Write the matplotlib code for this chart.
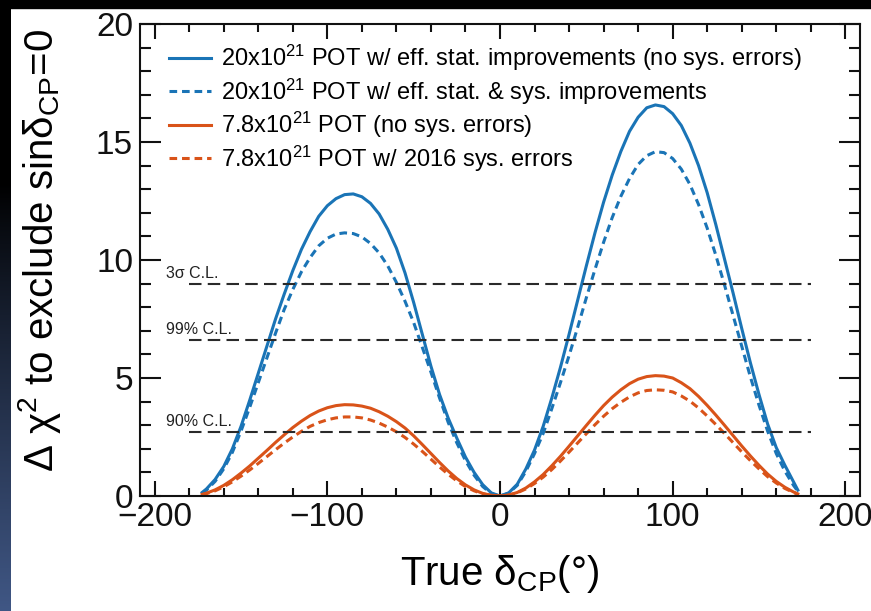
import matplotlib
matplotlib.use('Agg')
import matplotlib.pyplot as plt
import numpy as np
from matplotlib.ticker import MultipleLocator
from matplotlib.patches import Rectangle

# ---------------- data ----------------
delta_cp = [-172.5, -170, -165, -160, -155, -150, -145, -140, -135, -130,
            -125, -120, -115, -110, -105, -100, -95, -90, -85, -80,
            -75, -70, -65, -60, -55, -50, -45, -40, -35, -30,
            -25, -20, -15, -10, -5, 0,
            5, 10, 15, 20, 25, 30, 35, 40, 45, 50,
            55, 60, 65, 70, 75, 80, 85, 90, 95, 100,
            105, 110, 115, 120, 125, 130, 135, 140, 145, 150,
            155, 160, 165, 170, 172.5]

pot20_nosys = [0.15, 0.3, 0.7, 1.25, 2.0, 2.95, 4.05, 5.2, 6.35, 7.5,
               8.55, 9.55, 10.45, 11.2, 11.85, 12.3, 12.6, 12.77, 12.8, 12.68,
               12.4, 11.95, 11.3, 10.5, 9.45, 8.2, 6.85, 5.5, 4.3, 3.3,
               2.45, 1.65, 1.0, 0.48, 0.13, 0.0,
               0.13, 0.5, 1.15, 1.95, 2.95, 4.15, 5.45, 6.85, 8.3, 9.75,
               11.15, 12.45, 13.6, 14.6, 15.45, 16.05, 16.45, 16.57, 16.5, 16.2,
               15.7, 14.95, 14.0, 12.85, 11.5, 10.05, 8.6, 7.1, 5.65, 4.3,
               3.05, 2.05, 1.3, 0.6, 0.25]

pot20_sysimp = [0.12, 0.25, 0.62, 1.15, 1.85, 2.75, 3.75, 4.8, 5.85, 6.9,
                7.9, 8.75, 9.5, 10.1, 10.6, 10.92, 11.1, 11.15, 11.12, 10.98,
                10.7, 10.3, 9.75, 9.05, 8.25, 7.35, 6.3, 5.25, 4.15, 3.12,
                2.25, 1.5, 0.88, 0.4, 0.1, 0.0,
                0.12, 0.45, 1.05, 1.8, 2.65, 3.7, 4.8, 5.95, 7.15, 8.4,
                9.6, 10.75, 11.8, 12.7, 13.45, 14.05, 14.42, 14.59, 14.55, 14.3,
                13.85, 13.2, 12.35, 11.35, 10.2, 8.95, 7.65, 6.35, 5.05, 3.85,
                2.75, 1.8, 1.05, 0.45, 0.2]

pot78_nosys = [0.07, 0.12, 0.26, 0.45, 0.69, 0.97, 1.27, 1.6, 1.93, 2.27,
               2.59, 2.9, 3.17, 3.41, 3.6, 3.74, 3.83, 3.87, 3.86, 3.81,
               3.72, 3.57, 3.38, 3.15, 2.88, 2.55, 2.18, 1.8, 1.42, 1.06,
               0.74, 0.47, 0.26, 0.11, 0.03, 0.0,
               0.04, 0.15, 0.34, 0.6, 0.91, 1.28, 1.68, 2.11, 2.55, 2.99,
               3.42, 3.83, 4.19, 4.5, 4.76, 4.95, 5.06, 5.1, 5.08, 5.0,
               4.8, 4.55, 4.22, 3.84, 3.43, 3.0, 2.56, 2.12, 1.7, 1.3,
               0.93, 0.62, 0.37, 0.17, 0.09]

pot78_sys2016 = [0.05, 0.1, 0.22, 0.39, 0.6, 0.84, 1.1, 1.38, 1.67, 1.96,
                 2.24, 2.5, 2.74, 2.95, 3.11, 3.23, 3.31, 3.35, 3.35, 3.31,
                 3.22, 3.09, 2.92, 2.72, 2.48, 2.2, 1.89, 1.56, 1.23, 0.92,
                 0.64, 0.4, 0.22, 0.09, 0.02, 0.0,
                 0.035, 0.135, 0.3, 0.53, 0.8, 1.12, 1.48, 1.86, 2.25, 2.64,
                 3.02, 3.38, 3.7, 3.97, 4.2, 4.37, 4.47, 4.5, 4.48, 4.41,
                 4.24, 4.02, 3.73, 3.39, 3.03, 2.65, 2.26, 1.87, 1.5, 1.15,
                 0.82, 0.55, 0.32, 0.15, 0.07]

series_labels = [r"20x10$^{21}$ POT w/ eff. stat. improvements (no sys. errors)",
                 r"20x10$^{21}$ POT w/ eff. stat. & sys. improvements",
                 r"7.8x10$^{21}$ POT (no sys. errors)",
                 r"7.8x10$^{21}$ POT w/ 2016 sys. errors"]

cl_values = [9.0, 6.63, 2.71]
cl_labels = ["3σ C.L.", "99% C.L.", "90% C.L."]
x_ticks = [-200, -100, 0, 100, 200]
y_ticks = [0, 5, 10, 15, 20]

# ---------------- style ----------------
plt.rcParams['font.family'] = ['Liberation Sans', 'DejaVu Sans']
plt.rcParams['mathtext.fontset'] = 'custom'
plt.rcParams['mathtext.rm'] = 'Liberation Sans'
plt.rcParams['mathtext.it'] = 'Liberation Sans:italic'
plt.rcParams['mathtext.default'] = 'regular'

BLUE = '#1a74b6'
ORANGE = '#d95319'

W, H = 871, 611
fig = plt.figure(figsize=(W / 100, H / 100), dpi=100)
fig.patch.set_facecolor('white')

ax = fig.add_axes([140 / W, 1 - 496 / H, 720 / W, 472 / H])

dash = (0, (2.5, 1.6))
ax.plot(delta_cp, pot20_nosys, color=BLUE, lw=2.2, label=series_labels[0])
ax.plot(delta_cp, pot20_sysimp, color=BLUE, lw=2.2, ls=dash, label=series_labels[1])
ax.plot(delta_cp, pot78_nosys, color=ORANGE, lw=2.2, label=series_labels[2])
ax.plot(delta_cp, pot78_sys2016, color=ORANGE, lw=2.2, ls=dash, label=series_labels[3])

ax.hlines(cl_values, -180, 180, colors='#2a2a2a', linestyles=(0, (6, 3)), lw=1.5)
for v, lab in zip(cl_values, cl_labels):
    ax.text(-193.5, v + 0.12, lab, fontsize=11.5, va='bottom', ha='left', color='#222222')

ax.set_xlim(-208.5, 208.5)
ax.set_ylim(0, 20)
ax.set_xticks(x_ticks)
ax.set_yticks(y_ticks)
ax.xaxis.set_minor_locator(MultipleLocator(20))
ax.yaxis.set_minor_locator(MultipleLocator(1))

for s in ax.spines.values():
    s.set_linewidth(1.5)
    s.set_color('#111111')

ax.tick_params(which='both', direction='in', top=True, right=True, width=1.5,
               colors='#111111', labelsize=24)
ax.tick_params(axis='x', which='major', length=11, pad=4)
ax.tick_params(axis='x', which='minor', length=5.5)
ax.tick_params(axis='y', which='major', length=15, pad=5)
ax.tick_params(axis='y', which='minor', length=8)

ax.set_xlabel("True δ$_{CP}$(°)", fontsize=29)
ax.xaxis.set_label_coords(0.5, -0.165)
ax.xaxis.label.set_va('center')
ax.set_ylabel("Δ χ$^{2}$ to exclude sinδ$_{CP}$=0", fontsize=29)
ax.yaxis.set_label_coords(-0.139, 0.52)
ax.yaxis.label.set_va('center')

ax.legend(loc='upper left', bbox_to_anchor=(0.040, 0.96), frameon=False,
          fontsize=17, handlelength=1.8, handletextpad=0.4,
          labelspacing=0.14, borderaxespad=0, borderpad=0)

# ---------------- screenshot border decorations ----------------
fig.add_artist(Rectangle((0, 1 - 8 / H), 1, 8 / H, transform=fig.transFigure,
                         color='black', zorder=10))
gax = fig.add_axes([0, 0, 10 / W, 1])
t = np.linspace(0, 1, 256)[:, None]
bottom = np.array([0.25, 0.34, 0.52])
frac = np.clip((t - 0.3) / 0.7, 0, 1) ** 0.9
grad = (frac[..., None] * bottom[None, None, :])
gax.imshow(grad, aspect='auto', extent=[0, 1, 0, 1], origin='upper')
gax.axis('off')

fig.savefig('out.png', dpi=100)
